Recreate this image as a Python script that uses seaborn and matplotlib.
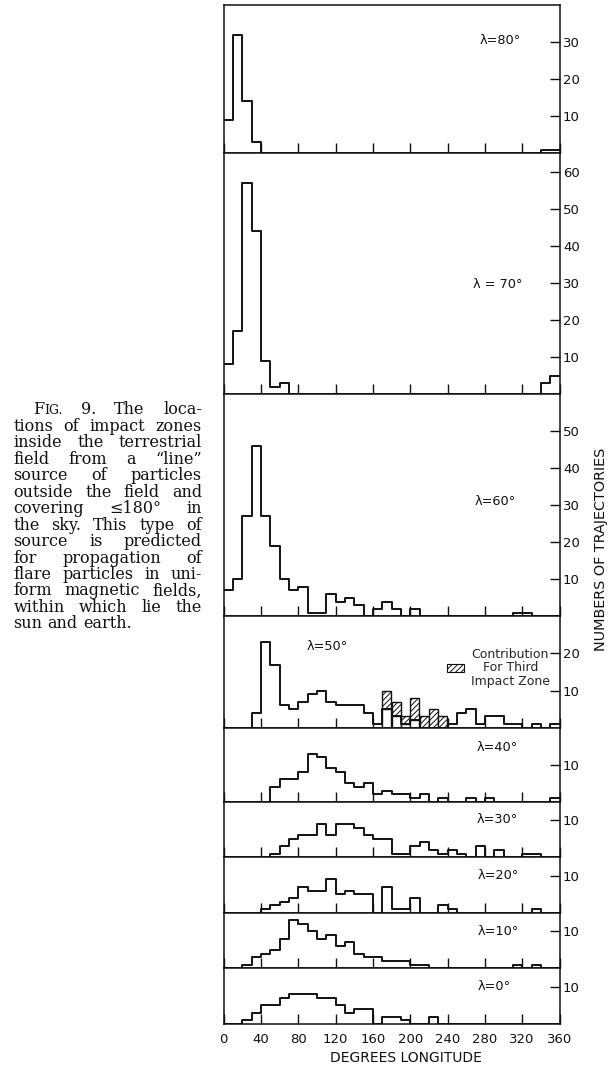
import numpy as np
import pandas as pd
import matplotlib
matplotlib.use("Agg")
import matplotlib.pyplot as plt
import seaborn as sns
from matplotlib.patches import Patch

# ---------------- data (counts per 10-degree longitude bin, 0..360) ----------------
bin_edges = list(range(0, 361, 10))

lam80 = [9, 32, 14, 3, 0, 0, 0, 0, 0, 0, 0, 0, 0, 0, 0, 0, 0, 0,
         0, 0, 0, 0, 0, 0, 0, 0, 0, 0, 0, 0, 0, 0, 0, 0, 1, 1]
lam70 = [8, 17, 57, 44, 9, 2, 3, 0, 0, 0, 0, 0, 0, 0, 0, 0, 0, 0,
         0, 0, 0, 0, 0, 0, 0, 0, 0, 0, 0, 0, 0, 0, 0, 0, 3, 5]
lam60 = [7, 10, 27, 46, 27, 19, 10, 7, 8, 1, 1, 6, 4, 5, 3, 0, 2, 4,
         2, 0, 2, 0, 0, 0, 0, 0, 0, 0, 0, 0, 0, 1, 1, 0, 0, 0]
lam50 = [0, 0, 0, 4, 23, 17, 6, 5, 7, 9, 10, 7, 6, 6, 6, 4, 1, 5,
         3, 1, 2, 0, 0, 0, 1, 4, 5, 1, 3, 3, 1, 1, 0, 1, 0, 1]
third50 = [0, 0, 0, 0, 0, 0, 0, 0, 0, 0, 0, 0, 0, 0, 0, 0, 0, 5,
           4, 2, 6, 3, 5, 3, 0, 0, 0, 0, 0, 0, 0, 0, 0, 0, 0, 0]
lam40 = [0, 0, 0, 0, 0, 4, 6, 6, 8, 13, 12, 9, 8, 5, 4, 5, 2, 3,
         2, 2, 1, 2, 0, 1, 0, 0, 1, 0, 1, 0, 0, 0, 0, 0, 0, 1]
lam30 = [0, 0, 0, 0, 0, 1, 3, 5, 6, 6, 9, 6, 9, 9, 8, 6, 5, 5,
         1, 1, 3, 4, 2, 1, 2, 1, 0, 3, 0, 2, 0, 0, 1, 1, 0, 0]
lam20 = [0, 0, 0, 0, 1, 2, 3, 4, 7, 6, 6, 9, 5, 6, 5, 5, 0, 7,
         1, 1, 4, 0, 0, 2, 1, 0, 0, 0, 0, 0, 0, 0, 0, 1, 0, 0]
lam10 = [0, 0, 1, 3, 4, 5, 8, 13, 12, 10, 8, 9, 6, 7, 4, 3, 3, 2,
         2, 2, 1, 1, 0, 0, 0, 0, 0, 0, 0, 0, 0, 1, 0, 1, 0, 0]
lam0 = [0, 0, 1, 3, 5, 5, 7, 8, 8, 8, 7, 7, 5, 3, 4, 4, 0, 2,
        2, 1, 0, 0, 2, 0, 0, 0, 0, 0, 0, 0, 0, 0, 0, 0, 0, 0]

panel_series = [lam80, lam70, lam60, lam50, lam40, lam30, lam20, lam10, lam0]
panel_titles = ["λ=80°", "λ = 70°", "λ=60°", "λ=50°", "λ=40°",
                "λ=30°", "λ=20°", "λ=10°", "λ=0°"]
panel_ymax = [40, 65, 60, 30, 20, 15, 15, 15, 15]
panel_yticks = [[10, 20, 30], [10, 20, 30, 40, 50, 60], [10, 20, 30, 40, 50],
                [10, 20], [10], [10], [10], [10], [10]]
x_ticks = [0, 40, 80, 120, 160, 200, 240, 280, 320, 360]

legend_label = "Contribution\nFor Third\nImpact Zone"
x_label = "DEGREES LONGITUDE"
y_label = "NUMBERS OF TRAJECTORIES"

caption_lines = [
    "FIG. 9. The loca-",
    "tions of impact zones",
    "inside the terrestrial",
    "field from a \u201cline\u201d",
    "source of particles",
    "outside the field and",
    "covering  \u2264180°  in",
    "the sky. This type of",
    "source is predicted",
    "for propagation of",
    "flare particles in uni-",
    "form magnetic fields,",
    "within which lie the",
    "sun and earth.",
]

# ---------------- layout / style ----------------
W, H = 610, 1065
sns.set_style("ticks")
plt.rcParams["font.family"] = ["DejaVu Sans"]
plt.rcParams["axes.linewidth"] = 1.1
plt.rcParams["hatch.linewidth"] = 0.7
INK = "#111111"

# label positions (degrees, value) inside each panel
title_pos = [(274.5, 30.5), (267.5, 29.6), (269.5, 31), (89.5, 21.9), (271.5, 14.5),
             (271.5, 10.3), (272.5, 10.2), (272.5, 10.0), (272.5, 10.0)]

fig = plt.figure(figsize=(W / 100, H / 100), dpi=100)
gs = fig.add_gridspec(len(panel_series), 1, height_ratios=panel_ymax,
                      left=223.5 / W, right=559.5 / W,
                      top=1 - 5 / H, bottom=1 - 1024 / H, hspace=0)

centers = [(a + b) / 2 for a, b in zip(bin_edges[:-1], bin_edges[1:])]

for i, vals in enumerate(panel_series):
    ax = fig.add_subplot(gs[i])
    df = pd.DataFrame({"lon": centers, "n": vals})
    if i == 3:
        hatched_total = [m + t if t > 0 else 0 for m, t in zip(lam50, third50)]
        lower = [m if t > 0 else 0 for m, t in zip(lam50, third50)]
        dfh = pd.DataFrame({"lon": centers, "n": hatched_total, "low": lower})
        sns.histplot(data=dfh, x="lon", weights="n", bins=bin_edges, element="bars",
                     fill=True, color="white", alpha=1, edgecolor=INK,
                     linewidth=1.0, hatch="//////", ax=ax)
        sns.histplot(data=dfh, x="lon", weights="low", bins=bin_edges, element="bars",
                     fill=True, color="white", alpha=1, edgecolor=INK,
                     linewidth=1.0, ax=ax)
    sns.histplot(data=df, x="lon", weights="n", bins=bin_edges, element="step",
                 fill=False, color=INK, linewidth=1.4, ax=ax)
    ax.set_xlim(0, 360)
    ax.set_ylim(0, panel_ymax[i])
    ax.set_xlabel("")
    ax.set_ylabel("")
    ax.set_xticks(x_ticks)
    ax.set_yticks(panel_yticks[i])
    ax.tick_params(axis="y", left=False, right=True, labelleft=False, labelright=True,
                   direction="in", length=7, width=1.0, pad=2.5, labelsize=9.5,
                   colors=INK)
    ax.tick_params(axis="x", bottom=True, top=False, direction="in", length=7,
                   width=1.0, pad=6.5, labelsize=9.5, labelbottom=(i == len(panel_series) - 1),
                   colors=INK)
    for s in ax.spines.values():
        s.set_color(INK)
    tx, ty = title_pos[i]
    ax.text(tx, ty, panel_titles[i], fontsize=9.3, ha="left", va="center", color=INK)
    if i == 3:
        h = Patch(facecolor="white", edgecolor=INK, hatch="//////", linewidth=0.8)
        leg = ax.legend(handles=[h], labels=[legend_label], loc="center left",
                        bbox_to_anchor=(0.665, 0.54), frameon=False, fontsize=9,
                        handlelength=1.4, handleheight=0.6, handletextpad=0.5,
                        borderpad=0, borderaxespad=0, labelspacing=0)
        for t in leg.get_texts():
            t.set_multialignment("center")
            t.set_linespacing(1.05)

fig.text(406 / W, 1 - 1057.5 / H, x_label, ha="center", va="center",
         fontsize=10, color=INK)
fig.text(601 / W, 1 - 549 / H, y_label, ha="center", va="center", rotation=90,
         fontsize=10.4, color=INK)

# ---------------- justified caption ----------------
cap_font = ["DejaVu Serif"]
renderer = fig.canvas.get_renderer()


def text_width(s, size):
    t = fig.text(0, 0, s, fontsize=size, family=cap_font)
    w = t.get_window_extent(renderer).width
    t.remove()
    return w


def line_tokens(line, size):
    toks = []
    for w in line.split():
        if w == "FIG.":
            toks.append([("F", size), ("IG.", size * 0.78)])
        else:
            toks.append([(w, size)])
    return toks


cap_left, cap_right = 13.5, 202.0
first_indent = 33.0
base0, lead = 414.5, 16.45
base_size = 11.5
min_gap = 3.5

for j, line in enumerate(caption_lines):
    x0 = first_indent if j == 0 else cap_left
    avail = cap_right - x0
    size = base_size
    toks = line_tokens(line, size)
    tot = sum(text_width(s, z) for tok in toks for s, z in tok)
    if tot + min_gap * (len(toks) - 1) > avail:
        size = size * (avail - min_gap * (len(toks) - 1)) / tot * 0.995
        toks = line_tokens(line, size)
    widths = [[text_width(s, z) for s, z in tok] for tok in toks]
    tot = sum(sum(w) for w in widths)
    last = j == len(caption_lines) - 1
    if last or len(toks) == 1:
        gap = text_width("a a", size) - 2 * text_width("a", size)
    else:
        gap = (cap_right - x0 - tot) / (len(toks) - 1)
    y = 1 - (base0 + j * lead) / H
    x = x0
    for tok, ws in zip(toks, widths):
        for (s, z), w in zip(tok, ws):
            fig.text(x / W, y, s, fontsize=z, family=cap_font, ha="left",
                     va="baseline", color=INK)
            x += w
        x += gap

fig.savefig("out.png", dpi=100, facecolor="white")
